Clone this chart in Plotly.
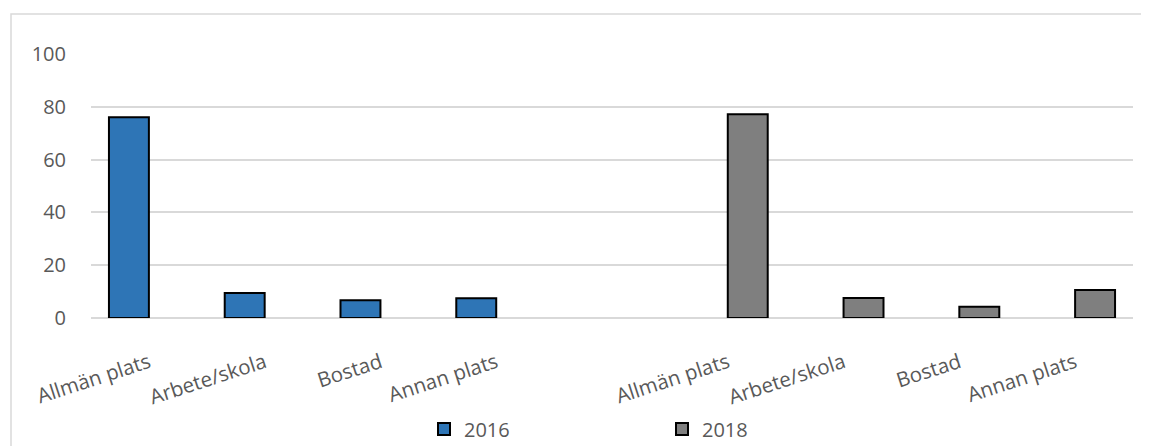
import plotly.graph_objects as go

# Data
categories = ["Allmän plats", "Arbete/skola", "Bostad", "Annan plats", "",
              "Allmän plats", "Arbete/skola", "Bostad", "Annan plats"]
values_2016 = [76.0, 9.5, 6.7, 7.5, None, None, None, None, None]
values_2018 = [None, None, None, None, None, 77.2, 7.6, 4.3, 10.6]
series_names = ["2016", "2018"]
y_ticks = [0, 20, 40, 60, 80, 100]

x_idx = list(range(len(categories)))

# the page body adds an 8px margin, so the figure is 8px smaller
W, H = 1141, 438
L, R, T, B = 83, 16, 46, 128
pw, ph = W - L - R, H - T - B

font_fam = "Open Sans, Noto Sans, sans-serif"
txt_col = "#595959"

fig = go.Figure()
fig.add_trace(go.Bar(x=x_idx, y=values_2016, name=series_names[0],
                     marker=dict(color="#2E75B6", line=dict(color="#000000", width=2))))
fig.add_trace(go.Bar(x=x_idx, y=values_2018, name=series_names[1],
                     marker=dict(color="#7F7F7F", line=dict(color="#000000", width=2))))

def px_x(p):
    return (p - L) / pw

def px_y(p):
    return (H - B - p) / ph

fig.update_layout(
    width=W, height=H,
    margin=dict(l=L, r=R, t=T, b=B, autoexpand=False),
    paper_bgcolor="white", plot_bgcolor="white",
    barmode="group", bargap=0.31, bargroupgap=0,
    font=dict(family=font_fam, color=txt_col, size=19),
    showlegend=True,
    legend=dict(orientation="h", x=px_x(416), xanchor="left", y=px_y(421), yanchor="middle",
                entrywidth=193, entrywidthmode="pixels",
                font=dict(size=20, color=txt_col, family=font_fam),
                bgcolor="rgba(0,0,0,0)", itemclick=False),
    xaxis=dict(range=[-0.5, len(categories) - 0.5], tickmode="array",
               tickvals=x_idx, ticktext=categories, tickangle=-18,
               showgrid=False, showline=False, zeroline=False,
               ticks="outside", ticklen=24, tickcolor="rgba(0,0,0,0)",
               tickfont=dict(size=20.5, color=txt_col, family=font_fam)),
    yaxis=dict(range=[0, 100], tickmode="array", tickvals=y_ticks,
               showgrid=True, gridcolor="#D9D9D9", gridwidth=1.5,
               zeroline=True, zerolinecolor="#D9D9D9", zerolinewidth=1.5,
               showline=False, ticks="outside", ticklen=20, tickcolor="rgba(0,0,0,0)",
               tickfont=dict(size=20, color=txt_col, family=font_fam)),
    shapes=[dict(type="rect", xref="paper", yref="paper",
                 x0=px_x(3), x1=px_x(1300), y0=px_y(700), y1=px_y(6),
                 line=dict(color="#D9D9D9", width=1.5), layer="below")],
)

fig.write_html("out.html")
